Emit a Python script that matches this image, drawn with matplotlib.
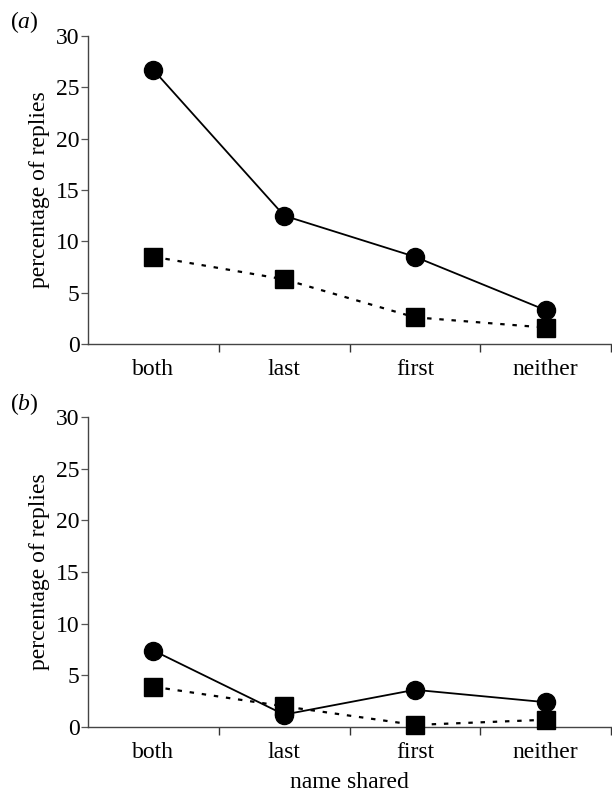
import matplotlib
matplotlib.use("Agg")
import matplotlib.pyplot as plt
import numpy as np

categories = ["both", "last", "first", "neither"]
a_circles = [26.7, 12.5, 8.5, 3.3]
a_squares = [8.5, 6.3, 2.6, 1.6]
b_circles = [7.4, 1.2, 3.6, 2.4]
b_squares = [3.9, 2.0, 0.2, 0.7]
yticks = [0, 5, 10, 15, 20, 25, 30]

plt.rcParams['font.family'] = ['Liberation Serif', 'DejaVu Serif']
plt.rcParams['mathtext.fontset'] = 'custom'
plt.rcParams['mathtext.it'] = 'Liberation Serif:italic'
plt.rcParams['mathtext.rm'] = 'Liberation Serif'

fig = plt.figure(figsize=(6.12, 7.93), dpi=100)
W, H = 612, 793

def make_ax(top_px, bottom_px):
    left, right = 88, 611
    return fig.add_axes([left / W, 1 - bottom_px / H, (right - left) / W, (bottom_px - top_px) / H])

axA = make_ax(36, 344)
axB = make_ax(417, 727)

x = np.arange(len(categories))
for ax, circ, sq, lab in [(axA, a_circles, a_squares, "a"), (axB, b_circles, b_squares, "b")]:
    ax.plot(x, sq, linestyle=(0, (2, 3.5)), color='black', lw=1.6,
            marker='s', markersize=13, markerfacecolor='black', markeredgecolor='black', zorder=3)
    ax.plot(x, circ, linestyle='-', color='black', lw=1.3,
            marker='o', markersize=13, markerfacecolor='black', markeredgecolor='black', zorder=4)
    ax.set_xlim(-0.5, 3.5)
    ax.set_ylim(0, 30)
    ax.set_yticks(yticks)
    ax.set_xticks(x)
    ax.set_xticklabels(categories)
    ax.set_xticks([0.5, 1.5, 2.5, 3.5], minor=True)
    ax.tick_params(axis='x', which='major', length=0, labelsize=17, pad=11)
    ax.tick_params(axis='x', which='minor', length=6, width=1.0, direction='out', color='#333333')
    ax.tick_params(axis='y', length=5, width=0.9, direction='out', labelsize=17, pad=1, color='#555555')
    for s in ['top', 'right']:
        ax.spines[s].set_visible(False)
    for s in ['left', 'bottom']:
        ax.spines[s].set_color('#444444')
        ax.spines[s].set_linewidth(1.0)
    ax.set_ylabel("percentage of replies", fontsize=17, labelpad=4)
    for ln in ax.lines:
        ln.set_clip_on(False)

fig.text(10 / W, 1 - 22 / H, r"($\mathit{a}$)", fontsize=17, va='center', ha='left')
fig.text(10 / W, 1 - 404 / H, r"($\mathit{b}$)", fontsize=17, va='center', ha='left')
axB.set_xlabel("name shared", fontsize=17, labelpad=6)

fig.savefig("out.png", dpi=100)
